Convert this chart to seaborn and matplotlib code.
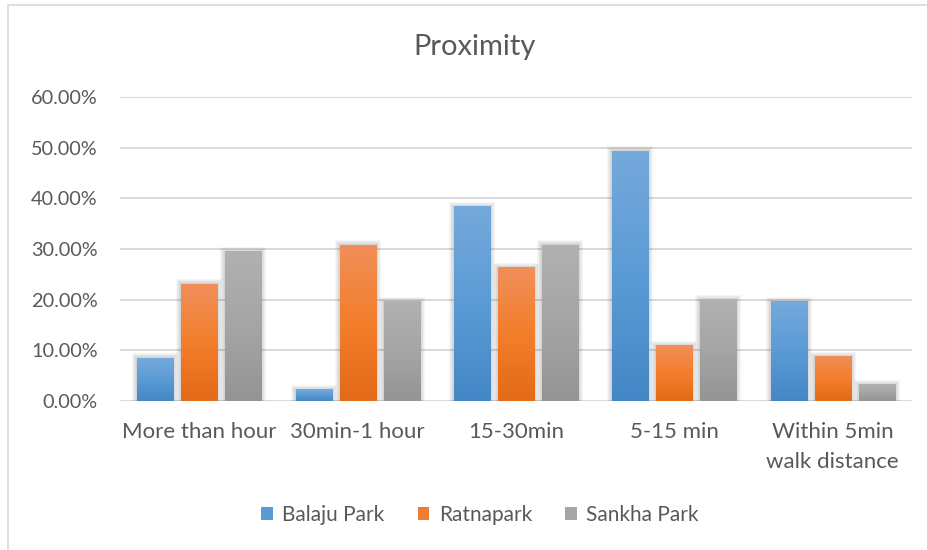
import numpy as np
import pandas as pd
import matplotlib
matplotlib.use("Agg")
import matplotlib.pyplot as plt
import seaborn as sns
from matplotlib.colors import LinearSegmentedColormap, to_hex
from matplotlib.patches import Rectangle, Patch
from matplotlib.ticker import FixedLocator, FuncFormatter
from matplotlib.lines import Line2D

# ---- data ----
categories = ["More than hour", "30min-1 hour", "15-30min", "5-15 min",
              "Within 5min\nwalk distance"]
parks = ["Balaju Park", "Ratnapark", "Sankha Park"]
balaju = [0.085, 0.023, 0.385, 0.494, 0.197]
ratnapark = [0.231, 0.308, 0.264, 0.110, 0.088]
sankha = [0.296, 0.197, 0.308, 0.201, 0.033]
y_ticks = [0.0, 0.1, 0.2, 0.3, 0.4, 0.5, 0.6]

base_colors = ["#5B9BD5", "#ED7D31", "#A5A5A5"]
# top / middle / bottom colours of each bar's vertical gradient
gradients = [
    ["#75A9DC", "#5B9BD5", "#4487C7"],
    ["#F08F5A", "#F37E2B", "#E36A17"],
    ["#B1B1B1", "#A5A5A5", "#949494"],
]
text_color = "#595959"
grid_color = "#D9D9D9"

df = pd.DataFrame({
    "category": categories * 3,
    "park": [p for p in parks for _ in categories],
    "share": balaju + ratnapark + sankha,
})

sns.set_theme(style="white")
plt.rcParams["font.family"] = ["Lato", "DejaVu Sans"]

W, H = 927, 550
fig = plt.figure(figsize=(W / 100, H / 100), dpi=100)
ax_left, ax_right, ax_top, ax_bot = 120, 912, 97.3, 400.7
ax = fig.add_axes([ax_left / W, 1 - ax_bot / H,
                   (ax_right - ax_left) / W, (ax_bot - ax_top) / H])

sns.barplot(data=df, x="category", y="share", hue="park", order=categories,
            hue_order=parks, palette=base_colors, width=0.833, gap=0.18,
            saturation=1, legend=False, ax=ax, zorder=3, linewidth=0)

ax.set_xlim(-0.5, len(categories) - 0.5)
ax.set_ylim(0, 0.6)

# pixel -> data scale for the soft shadow
px_x = (len(categories)) / (ax_right - ax_left)
px_y = 0.6 / (ax_bot - ax_top)

bars = list(ax.patches)
for patch in bars:
    fc = to_hex(patch.get_facecolor()).upper()
    idx = [c.upper() for c in base_colors].index(fc)
    x, y = patch.get_x(), patch.get_y()
    w, h = patch.get_width(), patch.get_height()
    # soft shadow behind the bar
    for k in range(1, 6):
        ax.add_patch(Rectangle((x - k * px_x, y - (k + 1.5) * px_y),
                               w + 2 * k * px_x, h + (2 * k + 1) * px_y,
                               facecolor="#000000", alpha=0.035, lw=0,
                               zorder=2))
    cmap = LinearSegmentedColormap.from_list(
        f"g{idx}", [gradients[idx][2], gradients[idx][1], gradients[idx][0]])
    grad = np.linspace(0, 1, 256).reshape(-1, 1)
    im = ax.imshow(grad, extent=[x, x + w, y, y + h], origin="lower",
                   aspect="auto", cmap=cmap, zorder=4, interpolation="bicubic")
    im.set_clip_path(patch)

ax.set_xlim(-0.5, len(categories) - 0.5)
ax.set_ylim(0, 0.6)

# axes styling
for s in ax.spines.values():
    s.set_visible(False)
ax.yaxis.set_major_locator(FixedLocator(y_ticks))
ax.yaxis.set_major_formatter(FuncFormatter(lambda v, _: f"{v * 100:.2f}%"))
ax.yaxis.grid(True, color=grid_color, lw=1.4, zorder=0)
ax.set_axisbelow(True)
ax.tick_params(axis="y", length=0, pad=16, labelsize=14.3, labelcolor=text_color)
ax.tick_params(axis="x", length=0, pad=15.5, labelsize=16, labelcolor=text_color)
ax.set_xlabel("")
ax.set_ylabel("")
for lbl in ax.get_xticklabels():
    lbl.set_linespacing(1.62)
    lbl.set_verticalalignment("top")

# title
fig.text(475 / W, 1 - 47 / H, "Proximity", ha="center", va="center",
         fontsize=21, color=text_color)

# legend
handles = [Patch(facecolor=c, edgecolor="none") for c in base_colors]
fig.legend(handles, parks, loc="center", bbox_to_anchor=(480 / W, 1 - 515 / H),
           ncol=3, frameon=False, fontsize=15, labelcolor=text_color,
           handlelength=0.55, handleheight=0.55, handletextpad=0.45,
           columnspacing=1.6)

# chart-area border (left and top edges)
fig.add_artist(Line2D([8 / W, 8 / W], [0, 1 - 5 / H], transform=fig.transFigure,
                      color=grid_color, lw=1.2))
fig.add_artist(Line2D([8 / W, 1], [1 - 5 / H, 1 - 5 / H], transform=fig.transFigure,
                      color=grid_color, lw=1.2))

fig.savefig("out.png", dpi=100, facecolor="white")
